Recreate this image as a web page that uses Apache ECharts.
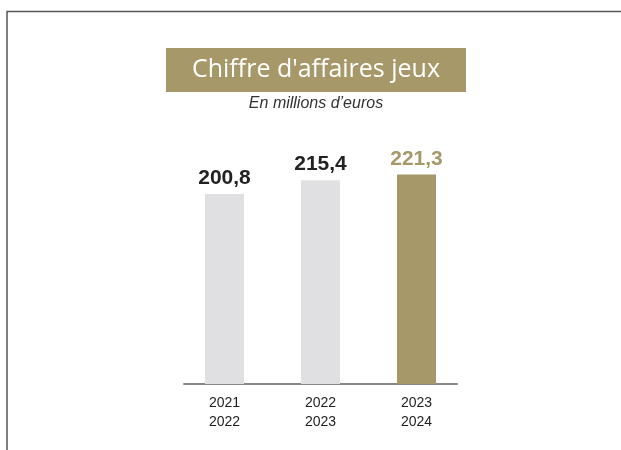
<!DOCTYPE html>
<html lang="fr">
<head>
    <meta charset="UTF-8">
    <title>Chiffre d'affaires jeux</title>
    <script src="https://cdn.jsdelivr.net/npm/echarts@6.0.0/dist/echarts.min.js"></script>
    <style>
        html, body { margin: 0; padding: 0; background: #fff; }
        #chart { width: 621px; height: 450px; }
    </style>
</head>
<body>
<div id="chart"></div>
<script>
    // data
    var categories = ['2021\n2022', '2022\n2023', '2023\n2024'];
    var values = [200.8, 215.4, 221.3];
    var titleText = "Chiffre d'affaires jeux";
    var subtitleText = 'En millions d\u2019euros';

    var GOLD = '#a69868';
    var GREY = '#e0e0e2';
    var lastIdx = values.length - 1;

    var chart = echarts.init(document.getElementById('chart'));
    var option = {
        animation: false,
        grid: [
            {left: 176.5, right: 156.5, top: 147.4, bottom: 66},
            // only used to draw the baseline, which is narrower than the category band
            {left: 184, right: 164, top: 147.4, bottom: 66}
        ],
        xAxis: [
            {
                type: 'category',
                data: categories,
                gridIndex: 0,
                axisLine: {show: false},
                axisTick: {show: false},
                axisLabel: {
                    color: '#1e1e1e',
                    fontSize: 14,
                    lineHeight: 19,
                    margin: 10,
                    fontFamily: 'Liberation Sans, sans-serif'
                }
            },
            {
                type: 'value',
                gridIndex: 1,
                min: 0, max: 1,
                axisLine: {show: true, lineStyle: {color: '#888', width: 2}},
                axisTick: {show: false},
                axisLabel: {show: false},
                splitLine: {show: false}
            }
        ],
        yAxis: [
            {type: 'value', gridIndex: 0, min: 0, max: 250, show: false},
            {type: 'value', gridIndex: 1, min: 0, max: 1, show: false}
        ],
        series: [{
            type: 'bar',
            data: values,
            barWidth: 39,
            itemStyle: {
                color: function (p) {
                    return p.dataIndex === lastIdx ? GOLD : GREY;
                }
            },
            label: {
                show: true,
                position: 'top',
                distance: 5,
                fontSize: 21,
                fontWeight: 'bold',
                fontFamily: 'Liberation Sans, sans-serif',
                formatter: function (p) {
                    return String(p.value).replace('.', ',');
                },
                color: '#222'
            }
        }],
        graphic: [
            {
                // frame
                type: 'polyline',
                shape: {points: [[7, 450], [7, 11.5], [621, 11.5]]},
                style: {stroke: '#555', lineWidth: 1.5, fill: null}
            },
            {
                type: 'rect',
                shape: {x: 166, y: 48, width: 300, height: 44},
                style: {fill: GOLD}
            },
            {
                type: 'text',
                x: 316, y: 70,
                style: {
                    text: titleText,
                    fill: '#fff',
                    font: '25px "Open Sans", sans-serif',
                    align: 'center',
                    verticalAlign: 'middle'
                }
            },
            {
                type: 'text',
                x: 316, y: 104,
                style: {
                    text: subtitleText,
                    fill: '#333',
                    font: 'italic 16px "Liberation Sans", sans-serif',
                    align: 'center',
                    verticalAlign: 'middle'
                }
            }
        ]
    };

    // latest year label in gold
    option.series[0].data = values.map(function (v, i) {
        return i === lastIdx ? {value: v, label: {color: GOLD}} : v;
    });

    chart.setOption(option);
</script>
</body>
</html>
